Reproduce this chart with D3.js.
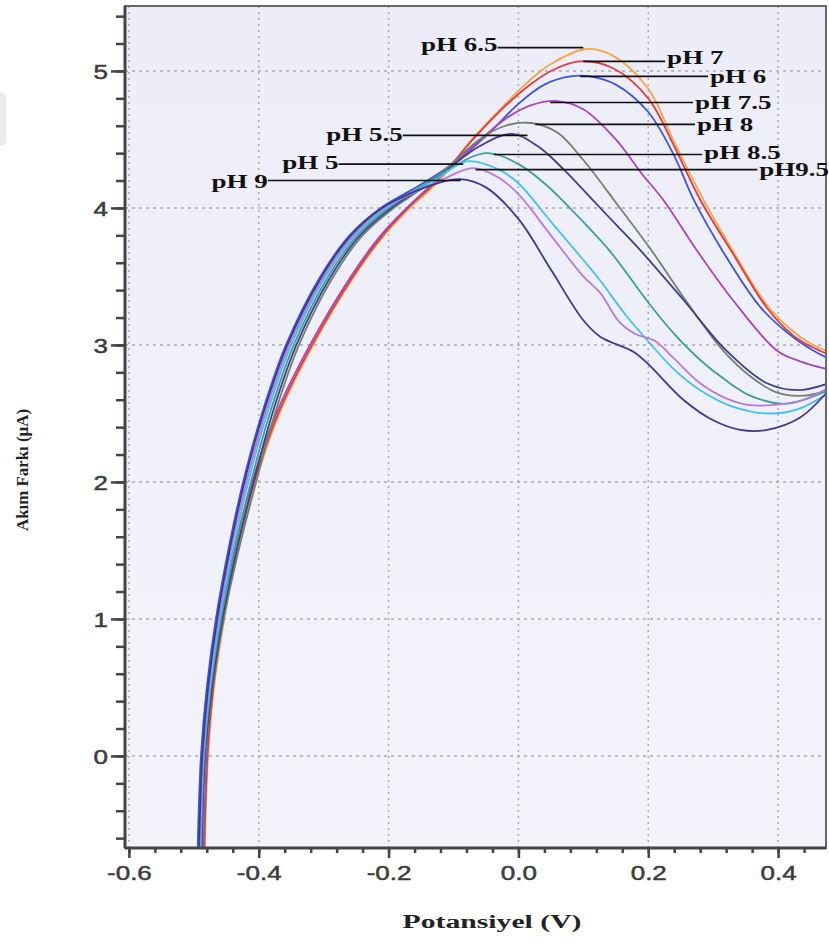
<!DOCTYPE html>
<html>
<head>
<meta charset="utf-8">
<script src="https://cdn.jsdelivr.net/npm/d3@7"></script>
<style>
  body { margin: 0; background: #fff; }
  svg { display: block; }
</style>
</head>
<body>
<svg id="chart"></svg>
<script>
// ---- data: [potential V, current µA] ----
const seriesNames = ["pH 6.5", "pH 7", "pH 6", "pH 7.5", "pH 8", "pH 5.5", "pH 8.5", "pH 5", "pH9.5", "pH 9"];

const ph65 = [[-0.483,-0.67],[-0.478,0],[-0.469,0.5],[-0.453,1.0],[-0.433,1.5],[-0.405,2.0],[-0.368,2.5],[-0.316,3.0],[-0.253,3.5],[-0.207,3.8],[-0.167,4.0],[-0.122,4.2],[-0.068,4.52],[-0.028,4.72],[0.01,4.9],[0.05,5.05],[0.105,5.16],[0.146,5.11],[0.2,4.87],[0.24,4.48],[0.285,4.06],[0.33,3.69],[0.383,3.29],[0.423,3.1],[0.45,3.01],[0.478,2.95]];
const ph7 = [[-0.484,-0.67],[-0.479,0],[-0.47,0.5],[-0.455,1.0],[-0.435,1.5],[-0.407,2.0],[-0.37,2.5],[-0.318,3.0],[-0.255,3.5],[-0.209,3.8],[-0.17,4.0],[-0.125,4.2],[-0.07,4.5],[-0.03,4.7],[0.01,4.87],[0.05,5.0],[0.095,5.07],[0.146,5.02],[0.2,4.8],[0.24,4.45],[0.28,4.06],[0.33,3.67],[0.383,3.27],[0.423,3.07],[0.45,2.99],[0.478,2.93]];
const ph6 = [[-0.494,-0.67],[-0.489,0],[-0.48,0.5],[-0.466,1.0],[-0.447,1.5],[-0.424,2.0],[-0.395,2.5],[-0.358,3.0],[-0.305,3.5],[-0.26,3.8],[-0.212,4.0],[-0.165,4.13],[-0.12,4.26],[-0.08,4.4],[-0.04,4.57],[0.0,4.76],[0.04,4.9],[0.08,4.96],[0.11,4.96],[0.15,4.9],[0.2,4.7],[0.24,4.38],[0.27,4.06],[0.314,3.69],[0.372,3.28],[0.414,3.09],[0.45,2.97],[0.478,2.9]];
const ph75 = [[-0.485,-0.67],[-0.48,0],[-0.472,0.5],[-0.458,1.0],[-0.438,1.5],[-0.41,2.0],[-0.373,2.5],[-0.321,3.0],[-0.258,3.5],[-0.212,3.8],[-0.172,4.0],[-0.127,4.2],[-0.07,4.45],[-0.02,4.65],[0.02,4.75],[0.06,4.78],[0.1,4.72],[0.15,4.5],[0.19,4.25],[0.223,4.06],[0.275,3.69],[0.33,3.33],[0.398,2.96],[0.434,2.88],[0.478,2.82]];
const ph8 = [[-0.487,-0.67],[-0.482,0],[-0.471,0.5],[-0.454,1.0],[-0.431,1.5],[-0.404,2.0],[-0.375,2.5],[-0.338,3.0],[-0.285,3.5],[-0.24,3.8],[-0.192,4.0],[-0.152,4.13],[-0.115,4.27],[-0.06,4.5],[-0.02,4.6],[0.02,4.62],[0.06,4.55],[0.1,4.35],[0.15,4.04],[0.205,3.69],[0.26,3.31],[0.315,2.96],[0.36,2.76],[0.4,2.65],[0.44,2.63],[0.478,2.67]];
const ph55 = [[-0.488,-0.67],[-0.483,0],[-0.472,0.5],[-0.456,1.0],[-0.434,1.5],[-0.408,2.0],[-0.379,2.5],[-0.342,3.0],[-0.289,3.5],[-0.244,3.8],[-0.196,4.0],[-0.155,4.13],[-0.115,4.26],[-0.06,4.45],[-0.01,4.54],[0.03,4.45],[0.07,4.28],[0.118,4.04],[0.15,3.88],[0.188,3.69],[0.254,3.33],[0.32,2.96],[0.383,2.72],[0.43,2.67],[0.478,2.72]];
const ph85 = [[-0.489,-0.67],[-0.484,0],[-0.474,0.5],[-0.458,1.0],[-0.437,1.5],[-0.412,2.0],[-0.383,2.5],[-0.346,3.0],[-0.293,3.5],[-0.248,3.8],[-0.2,4.0],[-0.158,4.13],[-0.115,4.26],[-0.05,4.4],[0.0,4.32],[0.04,4.18],[0.075,4.02],[0.14,3.69],[0.2,3.31],[0.24,3.08],[0.28,2.89],[0.32,2.74],[0.357,2.63],[0.408,2.57],[0.44,2.6],[0.478,2.67]];
const ph5 = [[-0.49,-0.67],[-0.485,0],[-0.475,0.5],[-0.46,1.0],[-0.44,1.5],[-0.416,2.0],[-0.387,2.5],[-0.35,3.0],[-0.297,3.5],[-0.252,3.8],[-0.204,4.0],[-0.16,4.12],[-0.12,4.23],[-0.08,4.34],[-0.03,4.28],[0.0,4.18],[0.05,3.9],[0.1,3.62],[0.126,3.47],[0.165,3.22],[0.203,3.01],[0.24,2.82],[0.28,2.67],[0.33,2.55],[0.383,2.5],[0.43,2.53],[0.478,2.65]];
const ph95 = [[-0.491,-0.67],[-0.486,0],[-0.477,0.5],[-0.462,1.0],[-0.443,1.5],[-0.419,2.0],[-0.39,2.5],[-0.353,3.0],[-0.3,3.5],[-0.255,3.8],[-0.207,4.0],[-0.162,4.11],[-0.12,4.2],[-0.07,4.29],[-0.03,4.22],[0.0,4.1],[0.05,3.8],[0.1,3.5],[0.126,3.38],[0.155,3.17],[0.18,3.08],[0.21,3.03],[0.24,2.9],[0.28,2.72],[0.32,2.61],[0.357,2.56],[0.408,2.57],[0.44,2.6],[0.478,2.69]];
const ph9 = [[-0.492,-0.67],[-0.487,0],[-0.478,0.5],[-0.464,1.0],[-0.445,1.5],[-0.422,2.0],[-0.393,2.5],[-0.356,3.0],[-0.303,3.5],[-0.258,3.8],[-0.21,4.0],[-0.165,4.11],[-0.125,4.18],[-0.09,4.21],[-0.05,4.15],[0.0,3.92],[0.05,3.55],[0.1,3.18],[0.126,3.06],[0.177,2.95],[0.2,2.86],[0.254,2.6],[0.3,2.45],[0.342,2.38],[0.383,2.38],[0.434,2.47],[0.478,2.67]];

const seriesValues = [ph65, ph7, ph6, ph75, ph8, ph55, ph85, ph5, ph95, ph9];

const xTicks = [-0.6, -0.4, -0.2, 0.0, 0.2, 0.4];
const yTicks = [0, 1, 2, 3, 4, 5];
const xTitle = "Potansiyel (V)";
const yTitle = "Akım Farkı (µA)";

// ---- styling / layout ----
const colors = ["#f5a742", "#e23b40", "#3b55e0", "#a647b8", "#72806f", "#403e88", "#3d9d9c", "#42c2ea", "#b87ad8", "#3c3a8c"];
// label side, leader line start / end (V), leader level (µA)
const labelLayout = [
  {side: "left",  x0: -0.032, x1: 0.100, y: 5.17, dy: -3},
  {side: "right", x0: 0.100,  x1: 0.226, y: 5.07, dy: -4},
  {side: "right", x0: 0.095,  x1: 0.292, y: 4.96, dy: 0},
  {side: "right", x0: 0.049,  x1: 0.269, y: 4.77, dy: 0},
  {side: "right", x0: 0.026,  x1: 0.272, y: 4.61, dy: 0},
  {side: "left",  x0: -0.178, x1: 0.014, y: 4.53, dy: -1},
  {side: "right", x0: -0.038, x1: 0.283, y: 4.39, dy: -2},
  {side: "left",  x0: -0.277, x1: -0.085, y: 4.32, dy: -1},
  {side: "right", x0: -0.066, x1: 0.368, y: 4.28, dy: 0},
  {side: "left",  x0: -0.386, x1: -0.089, y: 4.20, dy: 1}
];

const W = 829, H = 946;
const margin = {top: 6, right: 3, bottom: 98, left: 125};
const width = W - margin.left - margin.right;
const height = H - margin.top - margin.bottom;

const svg = d3.select("#chart").attr("width", W).attr("height", H);

// faint artifact at the left edge
svg.append("rect").attr("x", -6).attr("y", 92).attr("width", 12).attr("height", 54)
  .attr("rx", 5).attr("fill", "#ececec");

const chart = svg.append("g").attr("transform", `translate(${margin.left},${margin.top})`);

const x = d3.scaleLinear().domain([-0.606, 0.4738]).range([0, width]);
const y = d3.scaleLinear().domain([-0.672, 5.474]).range([height, 0]);

const defs = svg.append("defs");
const grad = defs.append("linearGradient").attr("id", "bg")
  .attr("x1", 0).attr("y1", 0).attr("x2", 0).attr("y2", 1);
grad.append("stop").attr("offset", "0%").attr("stop-color", "#ededf9");
grad.append("stop").attr("offset", "100%").attr("stop-color", "#f3f3fb");

defs.append("clipPath").attr("id", "clip")
  .append("rect").attr("width", width).attr("height", height);

chart.append("rect").attr("width", width).attr("height", height).attr("fill", "url(#bg)");

// grid
chart.append("g").selectAll("line").data(xTicks).join("line")
  .attr("x1", d => x(d)).attr("x2", d => x(d)).attr("y1", 0).attr("y2", height)
  .attr("stroke", "#a9a9b4").attr("stroke-width", 1.5).attr("stroke-dasharray", "2,4");
chart.append("g").selectAll("line").data(yTicks).join("line")
  .attr("x1", 0).attr("x2", width).attr("y1", d => y(d)).attr("y2", d => y(d))
  .attr("stroke", "#a9a9b4").attr("stroke-width", 1.5).attr("stroke-dasharray", "3,4");

// curves
const line = d3.line().x(d => x(d[0])).y(d => y(d[1])).curve(d3.curveCatmullRom.alpha(0.5));
chart.append("g").attr("clip-path", "url(#clip)")
  .selectAll("path").data(seriesValues).join("path")
  .attr("d", line).attr("fill", "none")
  .attr("stroke", (d, i) => colors[i]).attr("stroke-width", 1.8);

// frame
chart.append("rect").attr("width", width).attr("height", height)
  .attr("fill", "none").attr("stroke", "#666").attr("stroke-width", 2);

// axes
const xMinor = d3.range(-0.6, 0.48, 0.04);
const yMinor = d3.range(-0.6, 5.45, 0.2);

const xAxis = chart.append("g").attr("transform", `translate(0,${height})`);
xAxis.call(d3.axisBottom(x).tickValues(xMinor).tickSize(5).tickFormat(""));
xAxis.call(g => g.select(".domain").remove());
const xMajor = chart.append("g").attr("transform", `translate(0,${height})`)
  .call(d3.axisBottom(x).tickValues(xTicks).tickSize(10).tickPadding(8).tickFormat(d => d.toFixed(1)));

const yAxis = chart.append("g");
yAxis.call(d3.axisLeft(y).tickValues(yMinor).tickSize(9).tickFormat(""));
yAxis.call(g => g.select(".domain").remove());
const yMajor = chart.append("g")
  .call(d3.axisLeft(y).tickValues(yTicks).tickSize(14).tickPadding(3).tickFormat(d => String(d)));

chart.selectAll(".tick line").attr("stroke", "#444").attr("stroke-width", 2.5);
chart.selectAll(".domain").attr("stroke", "#444").attr("stroke-width", 3);
yMajor.select(".domain").attr("d", `M0,0V${height}`);
xMajor.select(".domain").attr("d", `M0,0H${width}`);

[xMajor, yMajor].forEach(a => {
  a.selectAll("text")
    .attr("font-family", "'Liberation Sans', Arial, sans-serif")
    .attr("font-size", 20).attr("fill", "#3c3c3c")
    .attr("stroke", "#3c3c3c").attr("stroke-width", 0.5)
    .each(function() {
      const len = this.getComputedTextLength();
      d3.select(this).attr("textLength", len * 1.3).attr("lengthAdjust", "spacingAndGlyphs");
    });
});
xMajor.selectAll("text").attr("dy", "0.71em");
yMajor.selectAll("text").attr("dy", "0.36em");

// axis titles
svg.append("text").attr("x", 492).attr("y", 928).attr("text-anchor", "middle")
  .attr("font-family", "'Liberation Serif', 'Times New Roman', serif")
  .attr("font-weight", "bold").attr("font-size", 18).attr("fill", "#222")
  .attr("textLength", 179).attr("lengthAdjust", "spacingAndGlyphs")
  .text(xTitle);

svg.append("text").attr("transform", "translate(28,470) rotate(-90)").attr("text-anchor", "middle")
  .attr("font-family", "'Liberation Serif', 'Times New Roman', serif")
  .attr("font-weight", "bold").attr("font-size", 17).attr("fill", "#222")
  .attr("textLength", 122).attr("lengthAdjust", "spacingAndGlyphs")
  .text(yTitle);

// pH labels with leader lines
const ann = chart.append("g");
labelLayout.forEach((l, i) => {
  ann.append("line")
    .attr("x1", x(l.x0)).attr("x2", x(l.x1)).attr("y1", y(l.y)).attr("y2", y(l.y))
    .attr("stroke", "#111").attr("stroke-width", 1.6);
  const t = ann.append("text")
    .attr("x", l.side === "left" ? x(l.x0) : x(l.x1) + 2)
    .attr("y", y(l.y) + l.dy)
    .attr("dy", "0.35em")
    .attr("text-anchor", l.side === "left" ? "end" : "start")
    .attr("font-family", "'Liberation Serif', 'Times New Roman', serif")
    .attr("font-weight", "bold").attr("font-size", 18).attr("fill", "#111")
    .text(seriesNames[i]);
  const len = t.node().getComputedTextLength();
  t.attr("textLength", len * 1.5).attr("lengthAdjust", "spacingAndGlyphs");
});
</script>
</body>
</html>
